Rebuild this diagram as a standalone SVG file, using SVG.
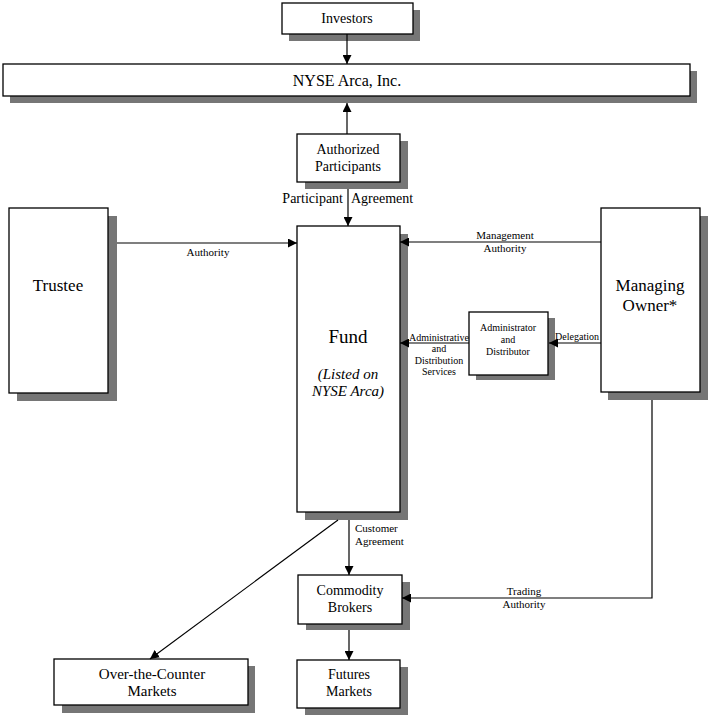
<svg xmlns="http://www.w3.org/2000/svg" width="710" height="716" viewBox="0 0 710 716">
<defs>
<style>
.box{fill:#fff;stroke:#000;stroke-width:1.3}
.sh{fill:#767676}
.t{font-family:"Liberation Serif","Times New Roman",serif;fill:#000;text-anchor:middle}
.n{font-size:14px}
.b{font-size:17px}
.s{font-size:11px}
.xs{font-size:10px}
.ln{fill:none;stroke:#000;stroke-width:1.2}
</style>
<marker id="ah" viewBox="0 0 10 10" refX="10" refY="5" markerWidth="9" markerHeight="9" markerUnits="userSpaceOnUse" orient="auto">
<path d="M0,0 L10,5 L0,10 Z" fill="#000"/>
</marker>
</defs>
<rect width="710" height="716" fill="#fff"/>

<g id="investors">
<rect class="sh" x="289" y="10" width="131" height="31"/>
<rect class="box" x="282" y="3" width="131" height="31"/>
<text class="t n" x="347" y="23">Investors</text>
</g>

<g id="nyse">
<rect class="sh" x="10" y="71" width="687" height="32"/>
<rect class="box" x="3" y="64" width="687" height="32"/>
<text class="t" style="font-size:16px" x="347" y="86">NYSE Arca, Inc.</text>
</g>

<g id="ap">
<rect class="sh" x="305" y="141" width="103" height="48"/>
<rect class="box" x="297" y="134" width="103" height="48"/>
<text class="t n" x="348" y="154">Authorized</text>
<text class="t n" x="348" y="171">Participants</text>
</g>

<g id="trustee">
<rect class="sh" x="17" y="216" width="100" height="185"/>
<rect class="box" x="9" y="208" width="99" height="185"/>
<text class="t b" x="58" y="291">Trustee</text>
</g>

<g id="fund">
<rect class="sh" x="305" y="234" width="103" height="286"/>
<rect class="box" x="297" y="226" width="103" height="286"/>
<text class="t" style="font-size:19px" x="348" y="343">Fund</text>
<text class="t" style="font-size:15px" font-style="italic" x="348" y="379">(Listed on</text>
<text class="t" style="font-size:15px" font-style="italic" x="348" y="396">NYSE Arca)</text>
</g>

<g id="managing">
<rect class="sh" x="608" y="216" width="100" height="184"/>
<rect class="box" x="601" y="208" width="99" height="184"/>
<text class="t b" x="650" y="291">Managing</text>
<text class="t b" x="650" y="311">Owner*</text>
</g>

<g id="admin">
<rect class="sh" x="476" y="318" width="79" height="62"/>
<rect class="box" x="469" y="312" width="79" height="63"/>
<text class="t xs" x="508" y="331">Administrator</text>
<text class="t xs" x="508" y="343">and</text>
<text class="t xs" x="508" y="355">Distributor</text>
</g>

<g id="brokers">
<rect class="sh" x="306" y="582" width="104" height="48"/>
<rect class="box" x="298" y="575" width="104" height="49"/>
<text class="t n" x="350" y="595">Commodity</text>
<text class="t n" x="350" y="612">Brokers</text>
</g>

<g id="futures">
<rect class="sh" x="305" y="667" width="103" height="48"/>
<rect class="box" x="297" y="660" width="103" height="48"/>
<text class="t n" x="349" y="679">Futures</text>
<text class="t n" x="349" y="696">Markets</text>
</g>

<g id="otc">
<rect class="sh" x="62" y="666" width="193" height="47"/>
<rect class="box" x="54" y="659" width="194" height="46"/>
<text class="t" style="font-size:15px" x="152" y="679">Over-the-Counter</text>
<text class="t" style="font-size:15px" x="152" y="696">Markets</text>
</g>

<g id="connectors">
<line class="ln" x1="347" y1="34" x2="347" y2="64" marker-end="url(#ah)"/>
<line class="ln" x1="347" y1="134" x2="347" y2="103" marker-end="url(#ah)"/>
<line class="ln" x1="348" y1="189" x2="348" y2="226" marker-end="url(#ah)"/>
<line class="ln" x1="117" y1="243" x2="297" y2="243" marker-end="url(#ah)"/>
<line class="ln" x1="601" y1="242" x2="400" y2="242" marker-end="url(#ah)"/>
<line class="ln" x1="601" y1="343" x2="549" y2="343" marker-end="url(#ah)"/>
<line class="ln" x1="469" y1="343" x2="400" y2="343" marker-end="url(#ah)"/>
<line class="ln" x1="349" y1="520" x2="349" y2="575" marker-end="url(#ah)"/>
<line class="ln" x1="349" y1="630" x2="349" y2="660" marker-end="url(#ah)"/>
<line class="ln" x1="338" y1="520" x2="150" y2="659" marker-end="url(#ah)"/>
<polyline class="ln" points="652,400 652,598 402,598" marker-end="url(#ah)"/>
<text class="t" style="font-size:14px;text-anchor:end" x="343" y="203">Participant</text>
<text class="t" style="font-size:14px;text-anchor:start" x="351" y="203">Agreement</text>
<text class="t s" x="208" y="256">Authority</text>
<text class="t s" x="505" y="239">Management</text>
<text class="t s" x="505" y="252">Authority</text>
<text class="t xs" x="577" y="340">Delegation</text>
<text class="t xs" x="439" y="341">Administrative</text>
<text class="t xs" x="439" y="352">and</text>
<text class="t xs" x="439" y="364">Distribution</text>
<text class="t xs" x="439" y="375">Services</text>
<text class="t s" x="355" y="532" style="text-anchor:start">Customer</text>
<text class="t s" x="355" y="545" style="text-anchor:start">Agreement</text>
<text class="t s" x="524" y="595">Trading</text>
<text class="t s" x="524" y="608">Authority</text>
</g>
</svg>
